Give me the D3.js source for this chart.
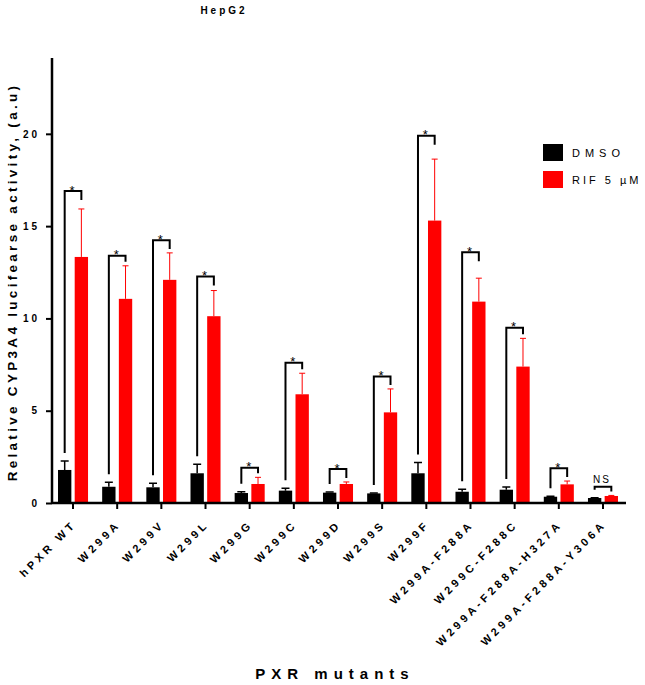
<!DOCTYPE html>
<html>
<head>
<meta charset="utf-8">
<script src="https://cdn.jsdelivr.net/npm/d3@7"></script>
<style>
  body { margin: 0; background: #fff; }
  svg { font-family: "Liberation Sans", Arial, sans-serif; }
</style>
</head>
<body>
<svg width="645" height="685"></svg>
<script>
// values (a.u)
let categories = ["hPXR WT", "W299A", "W299V", "W299L", "W299G", "W299C", "W299D",
                  "W299S", "W299F", "W299A-F288A", "W299C-F288C", "W299A-F288A-H327A", "W299A-F288A-Y306A"];
let dmso    = [1.79, 0.88, 0.85, 1.61, 0.54, 0.67, 0.56, 0.52, 1.61, 0.61, 0.72, 0.34, 0.27];
let dmsoErr = [0.49, 0.24, 0.22, 0.49, 0.07, 0.13, 0.03, 0.02, 0.59, 0.13, 0.15, 0.03, 0.02];
let rif     = [13.33, 11.06, 12.09, 10.12, 1.03, 5.89, 1.03, 4.91, 15.3, 10.91, 7.39, 1.01, 0.38];
let rifErr  = [2.6, 1.79, 1.46, 1.39, 0.36, 1.14, 0.11, 1.27, 3.33, 1.27, 1.53, 0.18, 0.03];
let bracket = [16.9, 13.4, 14.24, 12.27, 1.91, 7.6, 1.84, 6.85, 19.9, 13.59, 9.5, 1.88, 0.88];
let sig     = ["*", "*", "*", "*", "*", "*", "*", "*", "*", "*", "*", "*", "NS"];
let yTicks  = [0, 5, 10, 15, 20];
let seriesNames = ["DMSO", "RIF 5 \u00B5M"];

let colourDmso = "#000";
let colourRif  = "#FF0000";

let svg = d3.select("svg");

// plot area
let x0 = 52, x1 = 626, yTop = 58, yBot = 503;

let y = d3.scaleLinear().domain([0, 24]).range([yBot, yTop + 2]);
let x = d3.scaleBand().domain(categories).range([x0, 624]).paddingInner(0.32).paddingOuter(0.136);
let xs = d3.scaleBand().domain(["d", "r"]).range([0, x.bandwidth()]).paddingInner(0.2);

let rows = categories.map((c, i) => ({
  c: c, d: dmso[i], de: dmsoErr[i], r: rif[i], re: rifErr[i], b: bracket[i], s: sig[i]
}));

// title
svg.append("text")
  .attr("x", 224).attr("y", 14)
  .attr("text-anchor", "middle")
  .style("font-size", "10px").style("font-weight", "bold")
  .style("letter-spacing", "3px")
  .text("HepG2");

// bars
let g = svg.append("g");
let grp = g.selectAll(".grp").data(rows).enter().append("g")
  .attr("transform", d => `translate(${x(d.c)},0)`);

grp.append("rect")
  .attr("x", xs("d")).attr("width", xs.bandwidth())
  .attr("y", d => y(d.d)).attr("height", d => y(0) - y(d.d))
  .attr("fill", colourDmso);

grp.append("rect")
  .attr("x", xs("r")).attr("width", xs.bandwidth())
  .attr("y", d => y(d.r)).attr("height", d => y(0) - y(d.r))
  .attr("fill", colourRif);

// error bars (upper only)
let cd = xs("d") + xs.bandwidth() / 2, cr = xs("r") + xs.bandwidth() / 2;
grp.append("path")
  .attr("d", d => `M${cd},${y(d.d)}V${y(d.d + d.de)}M${cd - 4},${y(d.d + d.de)}H${cd + 4}`)
  .attr("stroke", colourDmso).attr("stroke-width", 1.5).attr("fill", "none");
grp.append("path")
  .attr("d", d => `M${cr},${y(d.r)}V${y(d.r + d.re)}M${cr - 3},${y(d.r + d.re)}H${cr + 3}`)
  .attr("stroke", colourRif).attr("stroke-width", 1).attr("fill", "none");

// significance brackets
grp.append("path")
  .attr("d", d => {
    let yb = y(d.b);
    let left = y(d.d + d.de) - 8;
    let right = Math.min(yb + 9, y(d.r + d.re) - 4);
    return `M${cd},${left}V${yb}H${cr}V${right}`;
  })
  .attr("stroke", "#000").attr("stroke-width", 2).attr("fill", "none");

grp.append("text")
  .attr("x", (cd + cr) / 2 - 1)
  .attr("y", d => d.s === "*" ? y(d.b) + 3.5 : y(d.b) - 4)
  .attr("text-anchor", "middle")
  .style("font-size", d => d.s === "*" ? "13px" : "10px")
  .style("letter-spacing", d => d.s === "*" ? "0px" : "2px")
  .text(d => d.s);

// y axis
let yAxis = svg.append("g")
  .attr("transform", `translate(${x0},0)`)
  .call(d3.axisLeft(y).tickValues(yTicks).tickSize(6).tickSizeOuter(0).tickPadding(6));
yAxis.select(".domain").attr("d", `M0,${yTop}V${yBot}`).attr("stroke-width", 2.5);
yAxis.selectAll(".tick line").attr("stroke-width", 2);
yAxis.selectAll(".tick text")
  .attr("font-family", null)
  .style("font-size", "10px").style("font-weight", "bold")
  .style("letter-spacing", "3px");

// x axis
let xAxis = svg.append("g")
  .attr("transform", `translate(0,${yBot})`)
  .call(d3.axisBottom(x).tickSize(6).tickSizeOuter(0));
xAxis.select(".domain").attr("d", `M${x0},0H${x1}`).attr("stroke-width", 2.5);
xAxis.selectAll(".tick line").attr("stroke-width", 2);
xAxis.selectAll(".tick text")
  .attr("font-family", null)
  .style("font-size", "11px").style("font-weight", "bold")
  .style("letter-spacing", "3.6px")
  .attr("text-anchor", "end")
  .attr("dy", null).attr("y", 0)
  .attr("transform", "translate(4,22) rotate(-45)");

// axis titles
svg.append("text")
  .attr("transform", "translate(17,282) rotate(-90)")
  .attr("text-anchor", "middle")
  .style("font-size", "13.5px").style("font-weight", "bold")
  .style("letter-spacing", "3.3px")
  .text("Relative CYP3A4 lucifearse activity, (a.u)");

svg.append("text")
  .attr("x", 335).attr("y", 679)
  .attr("text-anchor", "middle")
  .style("font-size", "15px").style("font-weight", "bold")
  .style("letter-spacing", "6px")
  .text("PXR mutants");

// legend
let legSpacing = [5, 3];
let leg = svg.append("g").attr("transform", "translate(543,144)");
let li = leg.selectAll("g").data(seriesNames).enter().append("g")
  .attr("transform", (d, i) => `translate(0,${i * 27})`);
li.append("rect").attr("width", 20).attr("height", 17)
  .attr("fill", (d, i) => i ? colourRif : colourDmso);
li.append("text").attr("x", 29).attr("y", 13)
  .style("font-size", "11px")
  .style("letter-spacing", (d, i) => legSpacing[i] + "px")
  .text(d => d);
</script>
</body>
</html>
